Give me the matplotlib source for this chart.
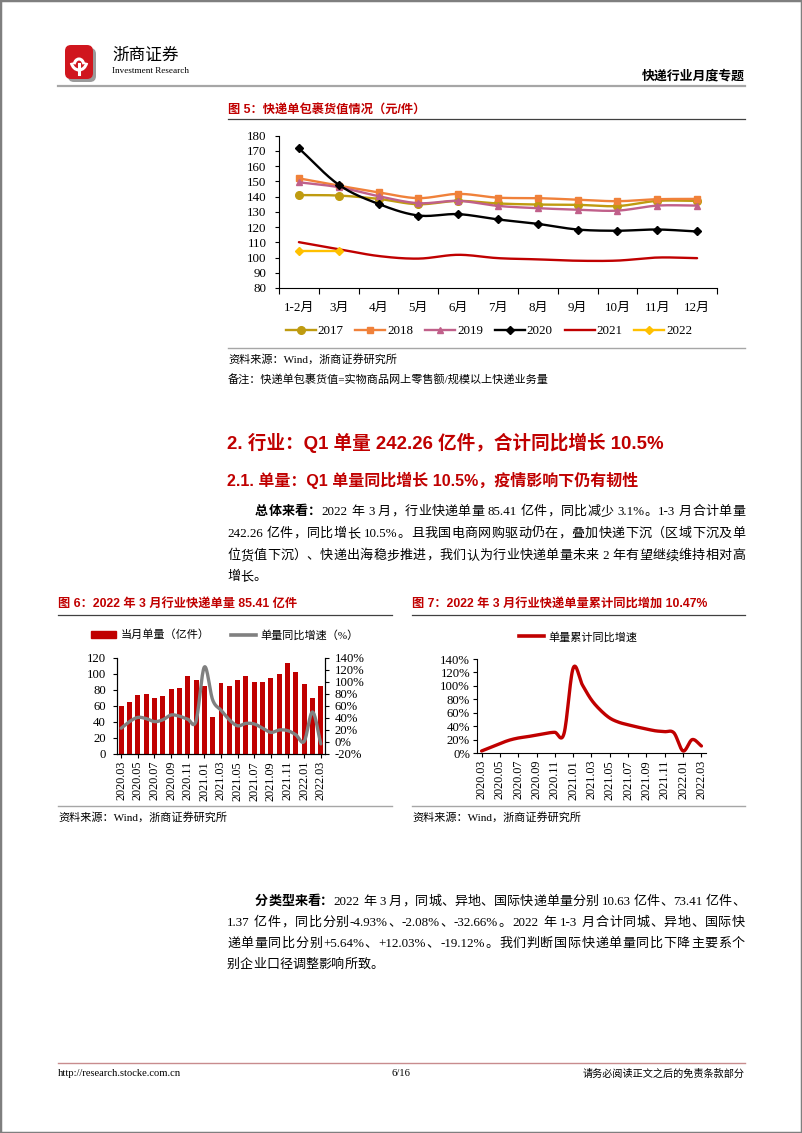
import numpy as np
import matplotlib
matplotlib.use('Agg')
import matplotlib.pyplot as plt
from matplotlib.font_manager import FontProperties
from matplotlib.patches import Rectangle, FancyBboxPatch, Patch, Arc
from matplotlib.lines import Line2D
from matplotlib.ticker import FuncFormatter

# ---------------- data ----------------
months5 = ['1-2月', '3月', '4月', '5月', '6月', '7月', '8月', '9月', '10月', '11月', '12月']
years5 = ['2017', '2018', '2019', '2020', '2021', '2022']
v2017 = [141.0, 140.7, 138.5, 135.0, 137.2, 135.5, 134.8, 134.6, 133.8, 137.2, 137.2]
v2018 = [152.0, 147.2, 142.8, 139.0, 141.8, 139.3, 139.0, 138.0, 137.0, 138.3, 138.5]
v2019 = [149.4, 146.2, 140.3, 135.7, 137.2, 133.9, 132.4, 131.4, 130.8, 134.1, 134.1]
v2020 = [171.7, 147.8, 135.2, 127.6, 128.5, 125.0, 122.1, 118.4, 117.6, 118.4, 117.1]
v2021 = [110.1, 105.5, 101.0, 99.3, 101.8, 99.6, 98.8, 97.9, 98.0, 100.0, 99.6]
v2022 = [104.5, 104.5]

dates = ['2020.03', '2020.04', '2020.05', '2020.06', '2020.07', '2020.08', '2020.09',
         '2020.10', '2020.11', '2020.12', '2021.01', '2021.02', '2021.03', '2021.04',
         '2021.05', '2021.06', '2021.07', '2021.08', '2021.09', '2021.10', '2021.11',
         '2021.12', '2022.01', '2022.02', '2022.03']
units6 = [60.5, 65.5, 74.0, 74.8, 69.8, 72.7, 81.5, 82.8, 97.5, 92.5, 85.0, 46.8, 88.5,
          84.8, 92.5, 97.5, 90.0, 90.2, 94.8, 99.8, 114.0, 102.5, 88.0, 69.8, 85.41]
growth6 = [23, 34, 41, 39, 34, 37, 45, 43, 38, 35, 125, 70, 53, 37, 27, 31, 30, 23, 16,
           20, 19, 12, 1, 50, -3.1]
cum7 = [3, 8.5, 14, 19, 22.3, 24.3, 26.8, 29.3, 30.8, 29, 126.5, 101.5, 79, 63.5, 52,
        45.7, 42, 38.7, 35.7, 33, 31.8, 30, 3, 20, 10.47]

# ---------------- setup ----------------
W, H = 802, 1133
SERIF = ['Liberation Serif', 'Noto Sans CJK SC']
SANS = ['Liberation Sans', 'Noto Sans CJK SC']
RED = '#C00000'
plt.rcParams['font.family'] = SERIF
plt.rcParams['axes.linewidth'] = 0.8

fig = plt.figure(figsize=(W / 100, H / 100), dpi=100)
fig.patch.set_facecolor('white')


def fx(x):
    return x / W


def fy(y):
    return 1 - y / H


def hline(x0, x1, y, color, lw):
    fig.add_artist(Line2D([fx(x0), fx(x1)], [fy(y), fy(y)], transform=fig.transFigure,
                          color=color, lw=lw))


def txt(x, y, s, size, family=SERIF, weight='normal', color='black', ha='left', va='center'):
    return fig.text(fx(x), fy(y), s, fontsize=size, family=family, weight=weight,
                    color=color, ha=ha, va=va)


def smooth(xs, ys, n=16):
    xs = np.asarray(xs, float)
    ys = np.asarray(ys, float)
    if len(xs) < 3:
        return xs, ys
    P = np.column_stack([xs, ys])
    P = np.vstack([2 * P[0] - P[1], P, 2 * P[-1] - P[-2]])
    out = []
    t = np.linspace(0, 1, n, endpoint=False)[:, None]
    for i in range(1, len(P) - 2):
        p0, p1, p2, p3 = P[i - 1], P[i], P[i + 1], P[i + 2]
        seg = 0.5 * ((2 * p1) + (-p0 + p2) * t + (2 * p0 - 5 * p1 + 4 * p2 - p3) * t ** 2
                     + (-p0 + 3 * p1 - 3 * p2 + p3) * t ** 3)
        out.append(seg)
    out.append(P[-2][None, :])
    out = np.vstack(out)
    return out[:, 0], out[:, 1]


renderer = fig.canvas.get_renderer()
PUNCT = '，。、：；（）！？“”'


def tw(s, fp):
    return renderer.get_text_width_height_descent(s, fp, ismath=False)[0]


def advance(s, fp):
    return tw('中' + s + '中', fp) - tw('中中', fp)


def left_bearing(s, fp):
    return (tw('中' + s, fp) - tw(s, fp)) - (tw('中中', fp) - tw('中', fp))


def is_wide(ch):
    return ord(ch) > 0x2E80


def justify(segments, x0, x1, y, size, justify_line=True):
    em = size * 100 / 72
    toks = []
    for s, bold in segments:
        fp = FontProperties(family=SERIF if not bold else SANS, size=size,
                            weight='bold' if bold else 'normal')
        buf = ''
        for ch in s:
            if is_wide(ch) or ch == ' ':
                if buf:
                    toks.append((buf, fp))
                    buf = ''
                toks.append((ch, fp))
            else:
                buf += ch
        if buf:
            toks.append((buf, fp))
    widths = []
    for s, fp in toks:
        if len(s) == 1 and is_wide(s):
            widths.append(em)
        else:
            widths.append(advance(s, fp))
    total = sum(widths)
    gap = 0
    if justify_line and len(toks) > 1:
        gap = (x1 - x0 - total) / (len(toks) - 1)
    x = x0
    for (s, fp), w in zip(toks, widths):
        if s == ' ':
            pass
        elif len(s) == 1 and is_wide(s) and s not in PUNCT:
            fig.text(fx(x + em / 2), fy(y), s, fontproperties=fp, ha='center', va='center')
        else:
            lb = left_bearing(s, fp)
            fig.text(fx(x + lb), fy(y), s, fontproperties=fp, ha='left', va='center')
        x += w + gap


# ---------------- page frame, header, footer ----------------
fig.add_artist(Rectangle((0, 0), 1, 1, transform=fig.transFigure, fill=False,
                         edgecolor='#7F7F7F', lw=2.5))
logo = fig.add_axes([fx(62), fy(86), 38 / W, 44 / H])
logo.set_xlim(0, 38)
logo.set_ylim(0, 44)
logo.axis('off')
logo.add_patch(FancyBboxPatch((6, 4), 28, 34, boxstyle='round,pad=0,rounding_size=6',
                              fc='#9A9A9A', ec='none'))
logo.add_patch(FancyBboxPatch((3, 7), 28, 34, boxstyle='round,pad=0,rounding_size=6',
                              fc='#D0161E', ec='none'))
logo.add_patch(Arc((17, 26), 16, 20, theta1=200, theta2=340, color='white', lw=2.2))
logo.add_patch(Arc((17, 20), 10, 14, theta1=20, theta2=160, color='white', lw=2.2))
logo.plot([17, 17], [12, 22], color='white', lw=2.2)

txt(112, 55, '浙商证券', 12, family=['Noto Sans CJK SC'])
txt(112, 71, 'Investment Research', 6.6, family=['Liberation Sans Narrow', 'Liberation Serif'])
txt(745, 76, '快递行业月度专题', 9.3, family=SANS, weight='bold', ha='right')
hline(58, 745, 86, '#A6A6A6', 1.6)

hline(58, 745, 1063, '#C88C8E', 1.0)
txt(58, 1074, 'http://research.stocke.com.cn', 7.6)
txt(401, 1074, '6/16', 7.6, ha='center')
txt(745, 1074, '请务必阅读正文之后的免责条款部分', 7.3, ha='right')

# ---------------- figure 5 ----------------
txt(228, 111, '图 5：快递单包裹货值情况（元/件）', 8.8, family=SANS, weight='bold', color=RED)
hline(228, 745, 119, '#404040', 0.9)

ax5 = fig.add_axes([fx(279), fy(288), 438 / W, (288 - 135.7) / H])
x5 = np.arange(len(months5))
styles5 = [('#BF9B10', 'o', 5.5), ('#F0813A', 's', 5.0), ('#C0608A', '^', 5.0),
           ('#000000', 'D', 4.0), (RED, None, 0), ('#FFC000', 'D', 4.0)]
handles = []
for vals, lab, (col, mk, ms) in zip([v2017, v2018, v2019, v2020, v2021, v2022], years5, styles5):
    xs = x5[:len(vals)]
    sx, sy = smooth(xs, vals)
    ax5.plot(sx, sy, color=col, lw=1.7, solid_capstyle='round')
    if mk:
        ax5.plot(xs, vals, ls='none', marker=mk, color=col, ms=ms, mec=col)
    handles.append(Line2D([], [], color=col, lw=1.7, marker=mk, ms=ms, mec=col))
ax5.set_xlim(-0.5, len(months5) - 0.5)
ax5.set_ylim(80, 180)
ax5.set_yticks(np.arange(80, 181, 10))
ax5.set_xticks(x5)
ax5.set_xticklabels(months5)
ax5.set_xticks(np.arange(-0.5, len(months5), 1), minor=True)
ax5.tick_params(axis='x', which='major', length=0, pad=10, labelsize=9.4)
ax5.tick_params(axis='x', which='minor', length=4, direction='out', width=0.8)
ax5.tick_params(axis='y', length=3, direction='out', pad=6, labelsize=9.4, width=0.8)
for s in ['top', 'right']:
    ax5.spines[s].set_visible(False)
fig.legend(handles, years5, loc='center', bbox_to_anchor=(fx(489), fy(331)), ncol=6,
           frameon=False, fontsize=9.4, handlelength=2.3, columnspacing=0.9,
           handletextpad=0.15, borderaxespad=0)
hline(228, 745, 348, '#A6A6A6', 1.0)
txt(228, 359, '资料来源：Wind，浙商证券研究所', 8.0)
txt(228, 380, '备注：快递单包裹货值=实物商品网上零售额/规模以上快递业务量', 8.0)

# ---------------- section text ----------------
txt(227, 443, '2. 行业：Q1 单量 242.26 亿件，合计同比增长 10.5%', 13.4, family=SANS,
    weight='bold', color=RED)
txt(227, 480, '2.1. 单量：Q1 单量同比增长 10.5%，疫情影响下仍有韧性', 11.5, family=SANS,
    weight='bold', color=RED)

BODY = 9.4
justify([('总体来看：', True), ('2022 年 3 月，行业快递单量 85.41 亿件，同比减少 3.1%。1-3 月合计单量', False)],
        255, 745, 512, BODY)
justify([('242.26 亿件，同比增长 10.5%。且我国电商网购驱动仍在，叠加快递下沉（区域下沉及单', False)],
        227, 745, 534, BODY)
justify([('位货值下沉）、快递出海稳步推进，我们认为行业快递单量未来 2 年有望继续维持相对高', False)],
        227, 745, 556, BODY)
justify([('增长。', False)], 227, 745, 577, BODY, justify_line=False)

justify([('分类型来看：', True), ('2022 年 3 月，同城、异地、国际快递单量分别 10.63 亿件、73.41 亿件、', False)],
        255, 745, 902, BODY)
justify([('1.37 亿件，同比分别-4.93%、-2.08%、-32.66%。2022 年 1-3 月合计同城、异地、国际快', False)],
        227, 745, 923, BODY)
justify([('递单量同比分别+5.64%、+12.03%、-19.12%。我们判断国际快递单量同比下降主要系个', False)],
        227, 745, 944, BODY)
justify([('别企业口径调整影响所致。', False)], 227, 745, 965, BODY, justify_line=False)

# ---------------- figure 6 ----------------
txt(58, 604, '图 6：2022 年 3 月行业快递单量 85.41 亿件', 8.8, family=SANS, weight='bold', color=RED)
hline(58, 392, 615, '#404040', 0.9)

ax6 = fig.add_axes([fx(117), fy(754), 208 / W, 96 / H])
x6 = np.arange(len(dates))
ax6.bar(x6, units6, width=0.6, color=RED, zorder=2)
ax6.set_xlim(-0.5, len(dates) - 0.5)
ax6.set_ylim(0, 120)
ax6.set_yticks(np.arange(0, 121, 20))
ax6.set_xticks(x6[::2])
ax6.set_xticklabels(dates[::2], rotation=90)
ax6.tick_params(axis='x', length=3, direction='out', pad=2, labelsize=8.8, width=0.8)
ax6.tick_params(axis='y', length=3, direction='out', pad=5, labelsize=9.2, width=0.8)
ax6r = ax6.twinx()
ax6r.set_ylim(-20, 140)
ax6r.set_yticks(np.arange(-20, 141, 20))
ax6r.yaxis.set_major_formatter(FuncFormatter(lambda v, p: f'{v:.0f}%'))
ax6r.tick_params(axis='y', length=3, direction='out', pad=4, labelsize=9.2, width=0.8)
sx, sy = smooth(x6, growth6)
ax6r.plot(sx, sy, color='#808080', lw=2.4, solid_capstyle='round')
for a in (ax6, ax6r):
    a.spines['top'].set_visible(False)
fig.legend([Patch(color=RED), Line2D([], [], color='#808080', lw=2.6)],
           ['当月单量（亿件）', '单量同比增速（%）'], loc='center',
           bbox_to_anchor=(fx(225), fy(635)), ncol=2, frameon=False, fontsize=8.0,
           handlelength=2.2, handleheight=0.6, columnspacing=2.0, handletextpad=0.4,
           borderaxespad=0)
hline(58, 392, 806, '#A6A6A6', 1.0)
txt(58, 817, '资料来源：Wind，浙商证券研究所', 8.0)

# ---------------- figure 7 ----------------
txt(412, 604, '图 7：2022 年 3 月行业快递单量累计同比增加 10.47%', 8.8, family=SANS,
    weight='bold', color=RED)
hline(412, 745, 615, '#404040', 0.9)

ax7 = fig.add_axes([fx(477), fy(753), 229 / W, 94 / H])
x7 = np.arange(len(dates))
sx, sy = smooth(x7, cum7)
ax7.plot(sx, sy, color=RED, lw=2.4, solid_capstyle='round')
ax7.set_xlim(-0.5, len(dates) - 0.5)
ax7.set_ylim(0, 140)
ax7.set_yticks(np.arange(0, 141, 20))
ax7.yaxis.set_major_formatter(FuncFormatter(lambda v, p: f'{v:.0f}%'))
ax7.set_xticks(x7[::2])
ax7.set_xticklabels(dates[::2], rotation=90)
ax7.tick_params(axis='x', length=3, direction='out', pad=2, labelsize=8.8, width=0.8)
ax7.tick_params(axis='y', length=3, direction='out', pad=2, labelsize=9.2, width=0.8)
for s in ['top', 'right']:
    ax7.spines[s].set_visible(False)
fig.legend([Line2D([], [], color=RED, lw=2.6)], ['单量累计同比增速'], loc='center',
           bbox_to_anchor=(fx(578), fy(637)), frameon=False, fontsize=8.0,
           handlelength=2.2, handletextpad=0.4, borderaxespad=0)
hline(412, 745, 806, '#A6A6A6', 1.0)
txt(412, 817, '资料来源：Wind，浙商证券研究所', 8.0)

fig.savefig('out.png', dpi=100, facecolor='white')
